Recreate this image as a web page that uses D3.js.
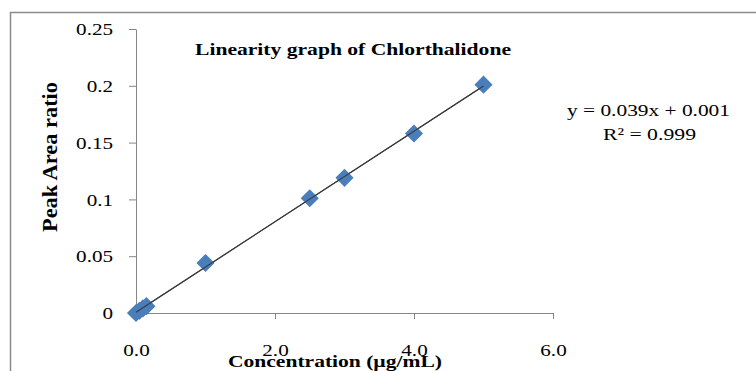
<!DOCTYPE html>
<html>
<head>
<meta charset="utf-8">
<script src="https://cdn.jsdelivr.net/npm/d3@7/dist/d3.min.js"></script>
<style>
  html, body { margin: 0; padding: 0; background: #fff; }
  svg { display: block; }
  text { font-family: "Liberation Serif", "Times New Roman", serif; fill: #000; }
</style>
</head>
<body>
<svg id="chart" width="756" height="371"></svg>
<script>
// ---- data ----
const concentration = [0, 0.05, 0.1, 0.15, 1.0, 2.5, 3.0, 4.0, 5.0];
const peakAreaRatio = [0, 0.002, 0.004, 0.006, 0.044, 0.101, 0.119, 0.158, 0.201];
const xTickValues = [0, 2, 4, 6];
const xTickLabels = ["0.0", "2.0", "4.0", "6.0"];
const yTickValues = [0, 0.05, 0.1, 0.15, 0.2, 0.25];
const yTickLabels = ["0", "0.05", "0.1", "0.15", "0.2", "0.25"];
const chartTitle = "Linearity graph of Chlorthalidone";
const xTitle = "Concentration (\u00b5g/mL)";
const yTitle = "Peak Area ratio";
const equationLines = ["y = 0.039x + 0.001", "R\u00b2 = 0.999"];

// ---- layout ----
const svg = d3.select("#chart");
const x = d3.scaleLinear().domain([0, 6]).range([136, 553]);
const y = d3.scaleLinear().domain([0, 0.25]).range([313, 29]);
const axisColor = "#868686";
const stretch = 1.32;

// outer frame
svg.append("rect")
  .attr("x", 10.5).attr("y", 12.5)
  .attr("width", 800).attr("height", 400)
  .attr("fill", "none").attr("stroke", "#8a8a8a").attr("stroke-width", 1.5);

// y axis
const yAxis = svg.append("g")
  .attr("transform", `translate(${x(0)},0)`)
  .call(d3.axisLeft(y).tickValues(yTickValues)
    .tickFormat((d, i) => yTickLabels[i]).tickSize(7).tickSizeOuter(0));
yAxis.select(".domain").attr("stroke", axisColor);
yAxis.selectAll(".tick line").attr("stroke", axisColor);
yAxis.selectAll(".tick text")
  .attr("x", -23 / stretch).attr("dy", "0.36em")
  .attr("transform", `scale(${stretch},1)`)
  .style("font-size", "16px").style("font-family", "'Liberation Serif', serif")
  .attr("fill", "#111");

// x axis
const xAxis = svg.append("g")
  .attr("transform", `translate(0,${y(0)})`)
  .call(d3.axisBottom(x).tickValues(xTickValues)
    .tickFormat((d, i) => xTickLabels[i]).tickSize(6).tickSizeOuter(0));
xAxis.select(".domain").attr("stroke", axisColor);
xAxis.selectAll(".tick line").attr("stroke", axisColor);
xAxis.selectAll(".tick text")
  .attr("y", 43).attr("dy", 0)
  .attr("transform", `scale(${stretch},1)`)
  .style("font-size", "16px").style("font-family", "'Liberation Serif', serif")
  .attr("fill", "#111");

// trendline (least squares from the data)
const n = concentration.length;
const mx = d3.mean(concentration), my = d3.mean(peakAreaRatio);
let sxy = 0, sxx = 0;
for (let i = 0; i < n; i++) {
  sxy += (concentration[i] - mx) * (peakAreaRatio[i] - my);
  sxx += (concentration[i] - mx) ** 2;
}
const slope = sxy / sxx, intercept = my - slope * mx;
const xMin = d3.min(concentration), xMax = d3.max(concentration);
svg.append("line")
  .attr("x1", x(xMin)).attr("y1", y(intercept + slope * xMin))
  .attr("x2", x(xMax)).attr("y2", y(intercept + slope * xMax))
  .attr("stroke", "#3a3a3a").attr("stroke-width", 1.1);

// markers
const sym = d3.symbol().type(d3.symbolSquare).size(165);
svg.append("g").selectAll("path")
  .data(concentration.map((c, i) => [c, peakAreaRatio[i]]))
  .join("path")
  .attr("d", sym)
  .attr("transform", d => `translate(${x(d[0])},${y(d[1])}) rotate(45)`)
  .attr("fill", "#4a7ebb");

// redraw trendline over markers (Excel draws trendline on top)
svg.append("line")
  .attr("x1", x(xMin)).attr("y1", y(intercept + slope * xMin))
  .attr("x2", x(xMax)).attr("y2", y(intercept + slope * xMax))
  .attr("stroke", "#3a3a3a").attr("stroke-width", 1.1);

// title
svg.append("text")
  .attr("x", 195).attr("y", 55)
  .attr("textLength", 316).attr("lengthAdjust", "spacingAndGlyphs")
  .style("font-size", "17px").style("font-weight", "bold")
  .text(chartTitle);

// x title
svg.append("text")
  .attr("x", 228).attr("y", 367)
  .attr("textLength", 214).attr("lengthAdjust", "spacingAndGlyphs")
  .style("font-size", "17px").style("font-weight", "bold")
  .text(xTitle);

// y title
svg.append("text")
  .attr("transform", `translate(57,232) rotate(-90) scale(1,1.3)`)
  .attr("x", 0).attr("y", 0)
  .attr("textLength", 150).attr("lengthAdjust", "spacingAndGlyphs")
  .style("font-size", "16px").style("font-weight", "bold")
  .text(yTitle);

// equation
svg.append("text")
  .attr("x", 567).attr("y", 116)
  .attr("textLength", 163).attr("lengthAdjust", "spacingAndGlyphs")
  .style("font-size", "17px")
  .text(equationLines[0]);
svg.append("text")
  .attr("x", 603).attr("y", 140)
  .attr("textLength", 93).attr("lengthAdjust", "spacingAndGlyphs")
  .style("font-size", "17px")
  .text(equationLines[1]);
</script>
</body>
</html>
